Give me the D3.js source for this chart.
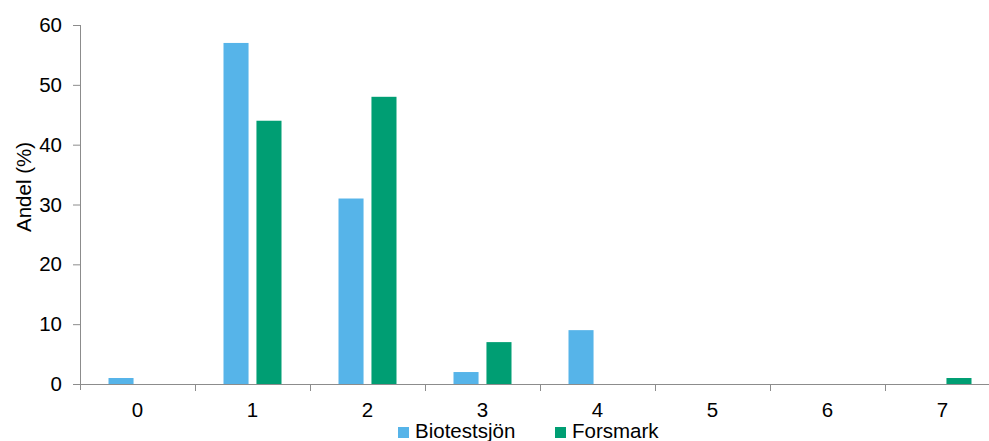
<!DOCTYPE html>
<html>
<head>
<meta charset="utf-8">
<script src="https://cdn.jsdelivr.net/npm/d3@7"></script>
<style>
  body { margin: 0; background: #fff; }
  text { font-family: "Liberation Sans", Arial, sans-serif; fill: #000; }
</style>
</head>
<body>
<div id="chart"></div>
<script>
var categories = ["0", "1", "2", "3", "4", "5", "6", "7"];
var seriesNames = ["Biotestsjön", "Forsmark"];
var biotestsjon = [1, 57, 31, 2, 9, 0, 0, 0];
var forsmark = [0, 44, 48, 7, 0, 0, 0, 1];
var colors = ["#56B4E9", "#009E73"];
var yTicks = [0, 10, 20, 30, 40, 50, 60];

var values = [biotestsjon, forsmark];
var fontSize = "20.5px";

var width = 989, height = 441;
var svg = d3.select("#chart").append("svg")
    .attr("width", width)
    .attr("height", height);

var x0 = d3.scaleBand().domain(categories).range([80, 1000]).padding(0);
var x1 = d3.scaleBand().domain(seriesNames).range([28.5, 86.5]).paddingInner(0.24);
var y = d3.scaleLinear().domain([0, 60]).range([384, 25]);

// bars
seriesNames.forEach(function(s, si) {
  svg.append("g").selectAll("rect")
    .data(categories.map(function(c, i) { return {c: c, v: values[si][i]}; }))
    .enter().append("rect")
      .attr("x", d => x0(d.c) + x1(s))
      .attr("width", x1.bandwidth())
      .attr("y", d => y(d.v))
      .attr("height", d => y(0) - y(d.v))
      .attr("fill", colors[si]);
});

// y axis
var yAxis = svg.append("g")
    .attr("transform", "translate(80,0)")
    .call(d3.axisLeft(y).tickValues(yTicks).tickSize(7).tickPadding(11).tickSizeOuter(0));
yAxis.select(".domain").attr("stroke", "#8c8c8c").attr("d", "M0.5,25V390");
yAxis.selectAll(".tick line").attr("stroke", "#8c8c8c");
yAxis.selectAll(".tick text").style("font-size", fontSize)
    .style("font-family", "'Liberation Sans', Arial, sans-serif");

// x axis line and boundary ticks
svg.append("line")
    .attr("x1", 80).attr("x2", 1000)
    .attr("y1", y(0) + 0.5).attr("y2", y(0) + 0.5)
    .attr("stroke", "#8c8c8c");
svg.append("g").selectAll("line")
  .data(categories.slice(1))
  .enter().append("line")
    .attr("x1", d => Math.round(x0(d)) + 0.5)
    .attr("x2", d => Math.round(x0(d)) + 0.5)
    .attr("y1", y(0)).attr("y2", y(0) + 7)
    .attr("stroke", "#8c8c8c");
svg.append("g").selectAll("text")
  .data(categories)
  .enter().append("text")
    .attr("x", d => x0(d) + x0.bandwidth() / 2)
    .attr("y", 417)
    .attr("text-anchor", "middle")
    .style("font-size", fontSize)
    .text(d => d);

// y title
svg.append("text")
    .attr("transform", "translate(31,187) rotate(-90)")
    .attr("text-anchor", "middle")
    .style("font-size", fontSize)
    .text("Andel (%)");

// legend
var legendX = [398, 555];
seriesNames.forEach(function(s, i) {
  svg.append("rect")
    .attr("x", legendX[i]).attr("y", 427)
    .attr("width", 11).attr("height", 11)
    .attr("fill", colors[i]);
  svg.append("text")
    .attr("x", legendX[i] + 17).attr("y", 438)
    .style("font-size", fontSize)
    .text(s);
});
</script>
</body>
</html>
